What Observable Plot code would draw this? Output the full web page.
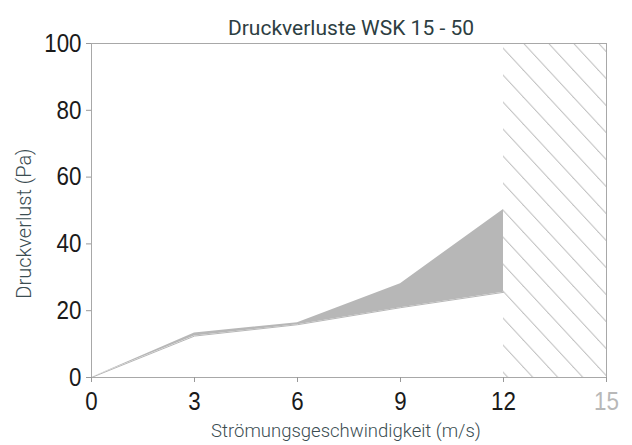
<!DOCTYPE html>
<html><head><meta charset="utf-8">
<script src="https://cdn.jsdelivr.net/npm/d3@7"></script>
<script src="https://cdn.jsdelivr.net/npm/@observablehq/plot@0.6"></script>
<style>
body{margin:0;background:#fff;}
#chart{width:632px;height:445px;}
</style></head>
<body><div id="chart"></div>
<script>
const title = "Druckverluste WSK 15 - 50";
const xLabel = "Strömungsgeschwindigkeit (m/s)";
const yLabel = "Druckverlust (Pa)";
const speeds = [0, 3, 6, 9, 12];
const lowerLoss = [0, 12.4, 15.8, 20.9, 25.5];
const upperLoss = [0, 13.3, 16.4, 28.1, 50.3];
const xTicks = [0, 3, 6, 9, 12, 15];
const yTicks = [0, 20, 40, 60, 80, 100];
const hatchFrom = 12, hatchTo = 15;
const yMax = 100;

const rows = speeds.map((s, i) => ({s, lo: lowerLoss[i], hi: upperLoss[i]}));
const tickFont = "'Liberation Sans', Arial, sans-serif";

const plot = Plot.plot({
  width: 632, height: 445,
  marginTop: 43, marginLeft: 91, marginRight: 26, marginBottom: 68,
  style: {fontFamily: "Roboto, sans-serif", background: "#fff"},
  x: {domain: [0, 15], ticks: xTicks},
  y: {domain: [0, yMax], ticks: yTicks},
  marks: [
    Plot.rect([{x1: hatchFrom, x2: hatchTo, y1: 0, y2: yMax}], {x1: "x1", x2: "x2", y1: "y1", y2: "y2", fill: "url(#hatch)"}),
    Plot.areaY(rows, {x: "s", y1: "lo", y2: "hi", fill: "#b7b7b7"}),
    Plot.line(rows, {x: "s", y: "lo", stroke: "#b7b7b7", strokeWidth: 1}),
    Plot.frame({stroke: "#a8a8a8"}),
    Plot.axisX({ticks: xTicks, tickSize: 5, tickPadding: 9, fontSize: 26, fontFamily: tickFont, stroke: "#999", fill: "#1a1a1a", label: null}),
    Plot.axisY({ticks: yTicks, tickSize: 5, tickPadding: 5, fontSize: 26, fontFamily: tickFont, stroke: "#999", fill: "#1a1a1a", label: null}),
    Plot.text([xLabel], {frameAnchor: "bottom", dx: -3, dy: 59, fontSize: 18.5, fill: "#3b4d52", fontWeight: 300}),
    Plot.text([yLabel], {frameAnchor: "left", textAnchor: "middle", dx: -67, dy: 13, rotate: -90, fontSize: 20, fill: "#3b4d52", fontWeight: 300}),
    Plot.text([title], {frameAnchor: "top", dx: 2, dy: -23, fontSize: 21, fill: "#2d3e42"})
  ]
});

const ns = "http://www.w3.org/2000/svg";
const defs = document.createElementNS(ns, "defs");
defs.innerHTML = `<pattern id="hatch" patternUnits="userSpaceOnUse" x="523.3" y="43" width="25" height="27">
<line x1="0" y1="0" x2="25" y2="27" stroke="#aaaaaa" stroke-width="1"/>
<line x1="-2" y1="25" x2="2" y2="29.3" stroke="#aaaaaa" stroke-width="1"/>
<line x1="23" y1="-2" x2="27" y2="2.3" stroke="#aaaaaa" stroke-width="1"/>
</pattern>`;
plot.insertBefore(defs, plot.firstChild);
document.getElementById("chart").appendChild(plot);
plot.querySelectorAll("g[aria-label='x-axis tick label'] text, g[aria-label='y-axis tick label'] text").forEach(t => {
  const len = t.getComputedTextLength();
  t.setAttribute("textLength", (len * 0.86).toFixed(1));
  t.setAttribute("lengthAdjust", "spacingAndGlyphs");
  if (t.textContent.trim() === "15") t.setAttribute("fill", "#b8b8b8");
});
</script>
</body></html>
